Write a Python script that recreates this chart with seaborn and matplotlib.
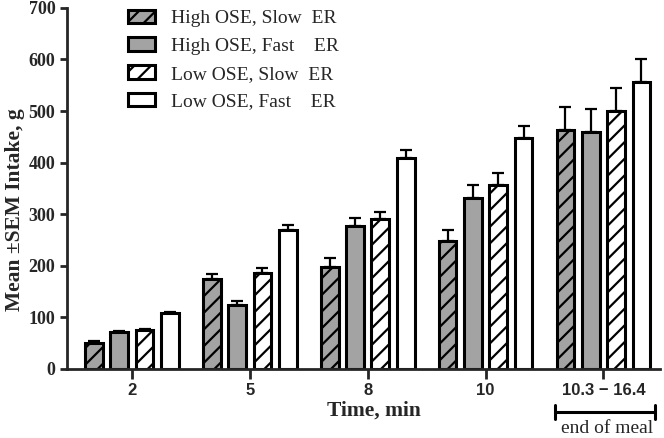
import matplotlib
matplotlib.use("Agg")
import matplotlib.pyplot as plt
import matplotlib.transforms as mtransforms
import seaborn as sns
import numpy as np
import pandas as pd

# data
time_points = ['2', '5', '8', '10', '10.3 \u2212 16.4']
groups = ['High OSE, Slow  ER', 'High OSE, Fast    ER', 'Low OSE, Slow  ER', 'Low OSE, Fast    ER']
high_slow = [51, 175, 198, 248, 464]
high_fast = [72, 124, 277, 332, 459]
low_slow = [75, 186, 290, 356, 500]
low_fast = [108, 269, 409, 448, 556]
high_slow_sem = [3, 8, 17, 22, 44]
high_fast_sem = [2, 8, 16, 24, 45]
low_slow_sem = [3, 9, 15, 23, 44]
low_fast_sem = [3, 9, 15, 23, 44]

means = [high_slow, high_fast, low_slow, low_fast]
sems = [high_slow_sem, high_fast_sem, low_slow_sem, low_fast_sem]

df = pd.DataFrame({
    'time': np.tile(time_points, len(groups)),
    'group': np.repeat(groups, len(time_points)),
    'intake': np.concatenate(means),
})

sns.set_style('ticks')
plt.rcParams['font.family'] = ['Liberation Serif', 'DejaVu Serif']
plt.rcParams['hatch.linewidth'] = 1.6
plt.rcParams['axes.linewidth'] = 2.0

fig = plt.figure(figsize=(6.64, 4.38), dpi=100)
ax = fig.add_axes([0.101, 0.158, 0.893, 0.824])

gray = '#a3a3a3'
palette = [gray, gray, 'white', 'white']
sns.barplot(data=df, x='time', y='intake', hue='group', order=time_points,
            hue_order=groups, palette=palette, width=0.86, gap=0.3,
            errorbar=None, edgecolor='black', linewidth=2.2, legend=False, ax=ax)

bar_conts = list(ax.containers)
for i, cont in enumerate(bar_conts):
    for bar, m, s in zip(cont.patches, means[i], sems[i]):
        if i in (0, 2):
            bar.set_hatch('//')
        xc = bar.get_x() + bar.get_width() / 2
        ax.errorbar(xc, m, yerr=[[0], [s]], fmt='none', ecolor='black',
                    elinewidth=1.6, capsize=4.5, capthick=1.6, zorder=1)

ax.legend(bar_conts, groups, loc='upper left', bbox_to_anchor=(0.103, 0.995),
          frameon=False, fontsize=14, handlelength=1.4, handleheight=0.7,
          handletextpad=0.8, labelspacing=0.52, borderaxespad=0, borderpad=0)

ax.set_ylim(0, 700)
ax.set_xlim(-0.55, 4.48)
ax.set_yticks(range(0, 701, 100))
ax.tick_params(axis='y', length=5, width=2, labelsize=13)
ax.tick_params(axis='x', length=7, width=2, labelsize=12, pad=3)
for lab in ax.get_yticklabels():
    lab.set_fontweight('bold')
for lab in ax.get_xticklabels():
    lab.set_fontweight('bold')
    lab.set_family(['Liberation Sans', 'DejaVu Sans'])
sns.despine(ax=ax)

ax.set_ylabel('Mean \u00b1SEM Intake, g', fontsize=15.5, fontweight='bold')
ax.yaxis.label.set_va('center')
ax.yaxis.set_label_coords((15 - 67) / 593, (369 - 210) / 361)
ax.set_xlabel('Time, min', fontsize=15.5, fontweight='bold')
ax.xaxis.set_label_coords((374 - 67) / 593, -0.088)

# bracket under the last group
trans = mtransforms.blended_transform_factory(ax.transData, ax.transAxes)
x0, x1 = 3.59, 4.44
yb = -0.119
ax.plot([x0, x1], [yb, yb], color='black', lw=2.2, transform=trans, clip_on=False)
for xx in (x0, x1):
    ax.plot([xx, xx], [yb - 0.02, yb + 0.02], color='black', lw=2.2,
            transform=trans, clip_on=False)
ax.text((x0 + x1) / 2 + 0.02, (369 - 433) / 361, 'end of meal', transform=trans,
        ha='center', va='baseline', fontsize=14)

fig.savefig('out.png', dpi=100)
